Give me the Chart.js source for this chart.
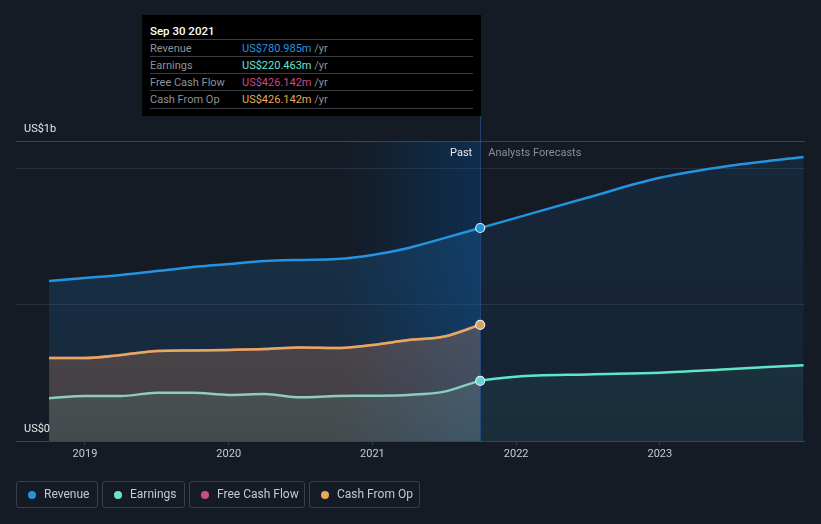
<!DOCTYPE html>
<html><head><meta charset="utf-8">
<script src="https://cdn.jsdelivr.net/npm/chart.js@4.4.1/dist/chart.umd.min.js"></script>
<style>
html,body{margin:0;padding:0;background:#151b24;width:821px;height:524px;overflow:hidden;font-family:Roboto,"Noto Sans",sans-serif}
#c{position:absolute;left:0;top:0}
#tip{position:absolute;left:142px;top:15px;width:339px;height:101px;background:#000}
#tip .t{position:absolute;left:8px;top:9px;font-size:11.5px;color:#fff;font-weight:500}
#tip .row{position:absolute;left:8px;width:323px;height:17px;border-top:1px solid #3a3d42;font-size:11px;line-height:18px;color:#8e9297}
#tip .row .v{position:absolute;left:92px;top:0}
#tip .bot{position:absolute;left:8px;top:93px;width:323px;border-top:1px solid #3a3d42}
.leg{position:absolute;top:481px;height:25px;border:1px solid #3a3f48;border-radius:3px;font-size:12px;color:#c5c9ce;line-height:25px;box-sizing:content-box}
.leg i{position:absolute;left:11px;top:9px;width:8px;height:8px;border-radius:50%}
.leg span{position:absolute;left:27px;top:0;white-space:nowrap}
</style></head><body>
<canvas id="c" width="821" height="524"></canvas>
<div id="tip">
 <div class="t">Sep 30 2021</div>
 <div class="row" style="top:24px">Revenue<span class="v"><span style="color:#2394df">US$780.985m</span> /yr</span></div>
 <div class="row" style="top:41px">Earnings<span class="v"><span style="color:#6ce3cf">US$220.463m</span> /yr</span></div>
 <div class="row" style="top:58px">Free Cash Flow<span class="v"><span style="color:#c94b8a">US$426.142m</span> /yr</span></div>
 <div class="row" style="top:75px">Cash From Op<span class="v"><span style="color:#e9a85a">US$426.142m</span> /yr</span></div>
 <div class="bot"></div>
</div>
<div class="leg" style="left:16px;width:80px"><i style="background:#2394df"></i><span>Revenue</span></div>
<div class="leg" style="left:102px;width:81px"><i style="background:#6ce3cf"></i><span>Earnings</span></div>
<div class="leg" style="left:189px;width:114px"><i style="background:#c94b8a"></i><span>Free Cash Flow</span></div>
<div class="leg" style="left:309px;width:109px"><i style="background:#e9a85a"></i><span>Cash From Op</span></div>
<script>
// ---- data (US$ millions, x = decimal year) ----
const pastDates = [2018.75,2019.0,2019.25,2019.5,2019.75,2020.0,2020.25,2020.5,2020.75,2021.0,2021.25,2021.5,2021.75];
const revenuePast = [587,598,609,623,638,649,660,664,667,682,708,744,780.985];
const earningsPast = [157,165,165,177,177,169,172,160,165,166,169,181,220.463];
const cashFromOpPast = [304,304,315,330,332,334,337,343,341,352,370,383,426.142];
const freeCashFlowPast = [304,304,315,330,332,334,337,343,341,352,370,383,426.142];
const forecastDates = [2021.75,2022.0,2022.5,2023.0,2023.5,2024.0];
const revenueForecast = [780.985,818,893,965,1010,1041];
const earningsForecast = [220.463,236,244,250,264,278];
const tickYears = [2019,2020,2021,2022,2023];
const yGridValues = [0,500,1000,1100];
const splitDate = 2021.75;
const pastShadeStart = 2020.75;

function pts(xs, ys){ return xs.map((x,i)=>({x:x,y:ys[i]})); }
const revenueData = pts(pastDates, revenuePast).concat(pts(forecastDates.slice(1), revenueForecast.slice(1)));
const earningsData = pts(pastDates, earningsPast).concat(pts(forecastDates.slice(1), earningsForecast.slice(1)));

function vgrad(chart, top, bottom){
  const a = chart.chartArea; if(!a) return 'transparent';
  const g = chart.ctx.createLinearGradient(0, a.top, 0, a.bottom);
  g.addColorStop(0, top); g.addColorStop(1, bottom); return g;
}
const isFc = ctx => ctx.p0.parsed.x >= splitDate - 1e-6;
const ptR = ctx => (ctx.raw && Math.abs(ctx.raw.x - splitDate) < 1e-6) ? 4.5 : 0;
function fillSet(data, top, bottom){
  return {data:data, borderWidth:0, borderColor:'transparent', pointRadius:0, pointHoverRadius:0,
          cubicInterpolationMode:'monotone', fill:'origin', backgroundColor:c=>vgrad(c.chart, top, bottom)};
}

const overlay = {
  id:'overlay',
  beforeDatasetsDraw(chart){
    const {ctx, chartArea:a, scales:{x}} = chart;
    const x0 = x.getPixelForValue(pastShadeStart), x1 = x.getPixelForValue(splitDate);
    const g = ctx.createLinearGradient(x0,0,x1,0);
    g.addColorStop(0,'rgba(0,90,180,0)'); g.addColorStop(1,'rgba(0,90,180,0.3)');
    ctx.save(); ctx.fillStyle = g; ctx.fillRect(x0, a.top, x1-x0, a.bottom-a.top);
    ctx.strokeStyle = 'rgba(40,90,160,0.6)'; ctx.lineWidth = 1;
    ctx.beginPath(); ctx.moveTo(Math.round(x1)+0.5, 116); ctx.lineTo(Math.round(x1)+0.5, a.bottom); ctx.stroke();
    ctx.restore();
  },
  afterDatasetsDraw(chart){
    const {ctx, chartArea:a, scales:{x,y}} = chart;
    const x1 = x.getPixelForValue(splitDate);
    ctx.save();
    ctx.font = '11px Roboto, sans-serif'; ctx.textBaseline = 'middle';
    ctx.fillStyle = '#e6e8ea'; ctx.textAlign = 'right'; ctx.fillText('Past', x1-8, a.top+12);
    ctx.fillStyle = '#8a8f96'; ctx.textAlign = 'left'; ctx.fillText('Analysts Forecasts', x1+8, a.top+12);
    ctx.fillStyle = '#e6e8ea';
    ctx.fillText('US$1b', 24, a.top-12);
    ctx.fillText('US$0', 24, y.getPixelForValue(0)-12);
    ctx.restore();
  }
};

new Chart(document.getElementById('c'), {
  type:'line',
  data:{datasets:[
    {label:'Earnings', data:earningsData, borderWidth:2.5, cubicInterpolationMode:'monotone', fill:false,
     pointRadius:ptR, pointHoverRadius:0, pointBackgroundColor:'#5fd8dc', pointBorderColor:'#e8eaec', pointBorderWidth:1.2,
     segment:{borderColor:ctx=>isFc(ctx)?'#5fe6c8':'#8ccdbb'}},
    fillSet(pts(forecastDates, earningsForecast), 'rgba(95,230,200,0.11)', 'rgba(95,230,200,0.05)'),
    fillSet(pts(pastDates, earningsPast), 'rgba(120,220,200,0.15)', 'rgba(120,220,200,0.09)'),
    {label:'Cash From Op', data:pts(pastDates, cashFromOpPast), borderWidth:2.5, cubicInterpolationMode:'monotone',
     borderColor:'#e3a95e', fill:'origin', backgroundColor:c=>vgrad(c.chart,'rgba(233,168,90,0.28)','rgba(233,168,90,0.15)'),
     pointRadius:ptR, pointHoverRadius:0, pointBackgroundColor:'#d9a35e', pointBorderColor:'#e8eaec', pointBorderWidth:1.2},
    {label:'Free Cash Flow', data:pts(pastDates, freeCashFlowPast), borderWidth:2.5, cubicInterpolationMode:'monotone',
     borderColor:'#c94b8a', fill:'origin', backgroundColor:c=>vgrad(c.chart,'rgba(201,75,138,0.12)','rgba(201,75,138,0.06)'),
     pointRadius:0, pointHoverRadius:0},
    {label:'Revenue', data:revenueData, borderWidth:2.5, cubicInterpolationMode:'monotone', borderColor:'#2394df',
     fill:false, pointRadius:ptR, pointHoverRadius:0, pointBackgroundColor:'#2394df', pointBorderColor:'#e8eaec', pointBorderWidth:1.2},
    fillSet(pts(forecastDates, revenueForecast), 'rgba(35,120,200,0.14)', 'rgba(35,120,200,0.09)'),
    fillSet(pts(pastDates, revenuePast), 'rgba(35,140,223,0.22)', 'rgba(35,140,223,0.1)')
  ]},
  options:{
    responsive:false, animation:false, events:[],
    layout:{padding:{left:16,right:16,top:141,bottom:59}},
    plugins:{legend:{display:false}, tooltip:{enabled:false}},
    scales:{
      x:{type:'linear', min:2018.52, max:2024.01,
         afterBuildTicks:s=>{s.ticks = tickYears.map(v=>({value:v}));},
         afterFit:s=>{s.height = 24;},
         grid:{drawOnChartArea:false, drawTicks:true, tickLength:4, color:'#3a404a'},
         border:{display:false},
         ticks:{color:'#c8ccd0', font:{family:'Roboto', size:11}, padding:3, maxRotation:0, callback:v=>String(v)}},
      y:{min:0, max:1100,
         afterBuildTicks:s=>{s.ticks = yGridValues.map(v=>({value:v}));},
         afterFit:s=>{s.width = 0;},
         ticks:{display:false}, border:{display:false},
         grid:{drawTicks:false, color:c=>(c.tick && (c.tick.value===0||c.tick.value===1100))?'#3d434d':'#272e39'}}
    }
  },
  plugins:[overlay]
});
</script>
</body></html>
